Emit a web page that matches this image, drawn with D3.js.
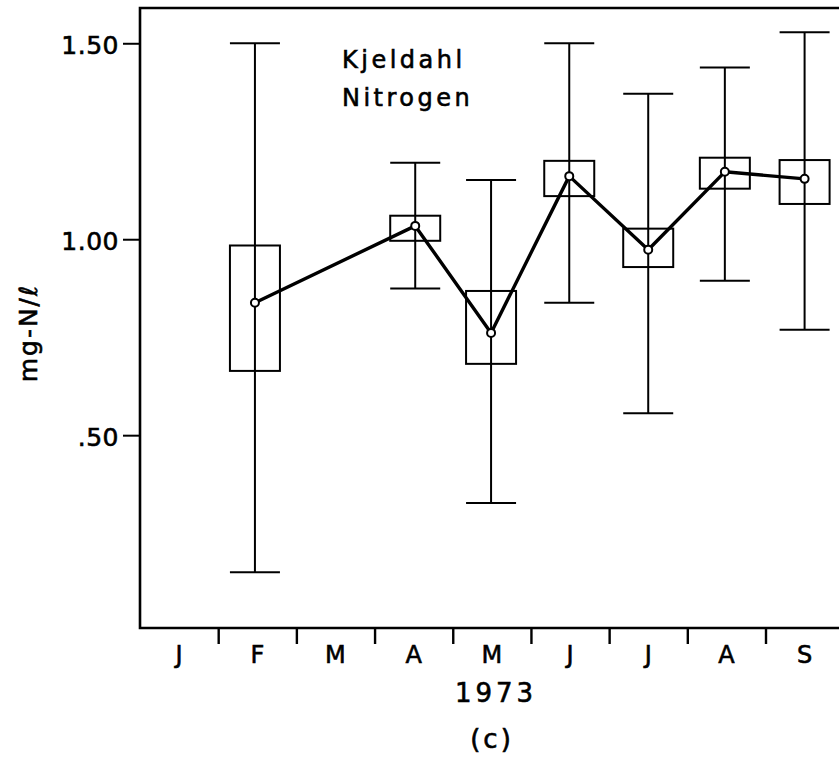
<!DOCTYPE html>
<html>
<head>
<meta charset="utf-8">
<script src="https://cdn.jsdelivr.net/npm/d3@7"></script>
<style>
  html, body { margin: 0; padding: 0; background: #fff; }
  svg { display: block; }
  text { font-family: "DejaVu Sans", sans-serif; fill: #000; stroke: #000; stroke-width: 0.6px; }
</style>
</head>
<body>
<svg id="chart" width="839" height="760"></svg>
<script>
// Month labels along the time axis (Jan .. Sep 1973)
const monthLabels = ["J", "F", "M", "A", "M", "J", "J", "A", "S"];
// Month boundaries where the axis ticks fall (months since Jan 1)
const monthBoundaries = [1, 2, 3, 4, 5, 6, 7, 8];
// Sampling position of each monthly group, in months since Jan 1
const samplePos = [1.47, 3.52, 4.49, 5.49, 6.50, 7.48, 8.50];
// Kjeldahl nitrogen, mg-N/l
const meanValues = [0.838, 1.034, 0.761, 1.161, 0.973, 1.172, 1.154];
const boxUpper   = [0.984, 1.060, 0.868, 1.200, 1.027, 1.208, 1.202];
const boxLower   = [0.664, 0.996, 0.682, 1.110, 0.929, 1.129, 1.090];
const maxValues  = [1.500, 1.195, 1.151, 1.500, 1.371, 1.438, 1.528];
const minValues  = [0.150, 0.874, 0.327, 0.838, 0.556, 0.894, 0.769];
// Value axis ticks
const yTickValues = [0.5, 1.0, 1.5];
const yTickLabels = [".50", "1.00", "1.50"];

const rows = samplePos.map((p, i) => ({
  pos: p, mean: meanValues[i], hi: boxUpper[i], lo: boxLower[i],
  max: maxValues[i], min: minValues[i]
}));

const svg = d3.select("#chart");
const plotLeft = 140, plotRight = 839, plotTop = 8, plotBottom = 628;

const x = d3.scaleLinear().domain([0, 8.94]).range([plotLeft, plotRight]);
const y = d3.scaleLinear().domain([0.008, 1.59]).range([plotBottom, plotTop]);

const boxHalf = 25;   // half width of boxes and whisker caps, px

// Frame: top, left and bottom edges
svg.append("path")
  .attr("d", `M${plotRight},${y(1.59)}H${x(0)}V${y(0.008)}H${plotRight}`)
  .attr("fill", "none").attr("stroke", "#000").attr("stroke-width", 2.6);

// Y axis
const yAxis = d3.axisLeft(y)
  .tickValues(yTickValues)
  .tickFormat((d, i) => yTickLabels[i])
  .tickSize(17).tickSizeOuter(0).tickPadding(4);
const gy = svg.append("g").attr("transform", `translate(${plotLeft},0)`).call(yAxis);
gy.select(".domain").remove();
gy.selectAll(".tick line").attr("stroke", "#000").attr("stroke-width", 2);
gy.selectAll(".tick text")
  .style("font-family", "'DejaVu Sans', sans-serif")
  .style("font-size", "25px")
  .attr("dy", "0.42em")
  .attr("letter-spacing", "0.5");

// X axis: ticks at month boundaries
const xAxis = d3.axisBottom(x)
  .tickValues(monthBoundaries)
  .tickFormat("")
  .tickSize(16).tickSizeOuter(0);
const gx = svg.append("g").attr("transform", `translate(0,${plotBottom})`).call(xAxis);
gx.select(".domain").remove();
gx.selectAll(".tick line").attr("stroke", "#000").attr("stroke-width", 2.4);

// Month labels centred within each month
svg.append("g").selectAll("text")
  .data(monthLabels)
  .join("text")
  .attr("x", (d, i) => x(i + 0.5))
  .attr("y", 663)
  .attr("text-anchor", "middle")
  .style("font-size", "24px")
  .text(d => d);

// Year and panel caption
svg.append("text")
  .attr("x", 496).attr("y", 702)
  .attr("text-anchor", "middle")
  .attr("letter-spacing", "4")
  .style("font-size", "26px")
  .text("1973");
svg.append("text")
  .attr("x", 492).attr("y", 748)
  .attr("text-anchor", "middle")
  .attr("letter-spacing", "3")
  .style("font-size", "26px")
  .text("(c)");

// Y axis title
svg.append("text")
  .attr("transform", "translate(37,333) rotate(-90)")
  .attr("text-anchor", "middle")
  .attr("letter-spacing", "2")
  .style("font-size", "25px")
  .text("mg-N/\u2113");

// Inset title
const title = svg.append("text")
  .attr("x", 342).attr("y", 68)
  .attr("letter-spacing", "3.5")
  .style("font-size", "24px");
title.append("tspan").attr("x", 342).attr("y", 68).text("Kjeldahl");
title.append("tspan").attr("x", 342).attr("y", 106).text("Nitrogen");

// Range whiskers with end caps
const wh = svg.append("g").attr("stroke", "#000").attr("stroke-width", 2).attr("fill", "none");
wh.selectAll(".stem").data(rows).join("line")
  .attr("x1", d => x(d.pos)).attr("x2", d => x(d.pos))
  .attr("y1", d => y(d.max)).attr("y2", d => y(d.min));
wh.selectAll(".capHi").data(rows).join("line")
  .attr("x1", d => x(d.pos) - boxHalf).attr("x2", d => x(d.pos) + boxHalf)
  .attr("y1", d => y(d.max)).attr("y2", d => y(d.max));
wh.selectAll(".capLo").data(rows).join("line")
  .attr("x1", d => x(d.pos) - boxHalf).attr("x2", d => x(d.pos) + boxHalf)
  .attr("y1", d => y(d.min)).attr("y2", d => y(d.min));

// Confidence boxes
svg.append("g").selectAll("rect").data(rows).join("rect")
  .attr("x", d => x(d.pos) - boxHalf)
  .attr("width", boxHalf * 2)
  .attr("y", d => y(d.hi))
  .attr("height", d => y(d.lo) - y(d.hi))
  .attr("fill", "none").attr("stroke", "#000").attr("stroke-width", 2);

// Mean line
svg.append("path")
  .datum(rows)
  .attr("d", d3.line().x(d => x(d.pos)).y(d => y(d.mean)))
  .attr("fill", "none").attr("stroke", "#000").attr("stroke-width", 3.4)
  .attr("stroke-linejoin", "round");

// Mean markers
svg.append("g").selectAll("circle").data(rows).join("circle")
  .attr("cx", d => x(d.pos)).attr("cy", d => y(d.mean))
  .attr("r", 4)
  .attr("fill", "#fff").attr("stroke", "#000").attr("stroke-width", 2);
</script>
</body>
</html>
